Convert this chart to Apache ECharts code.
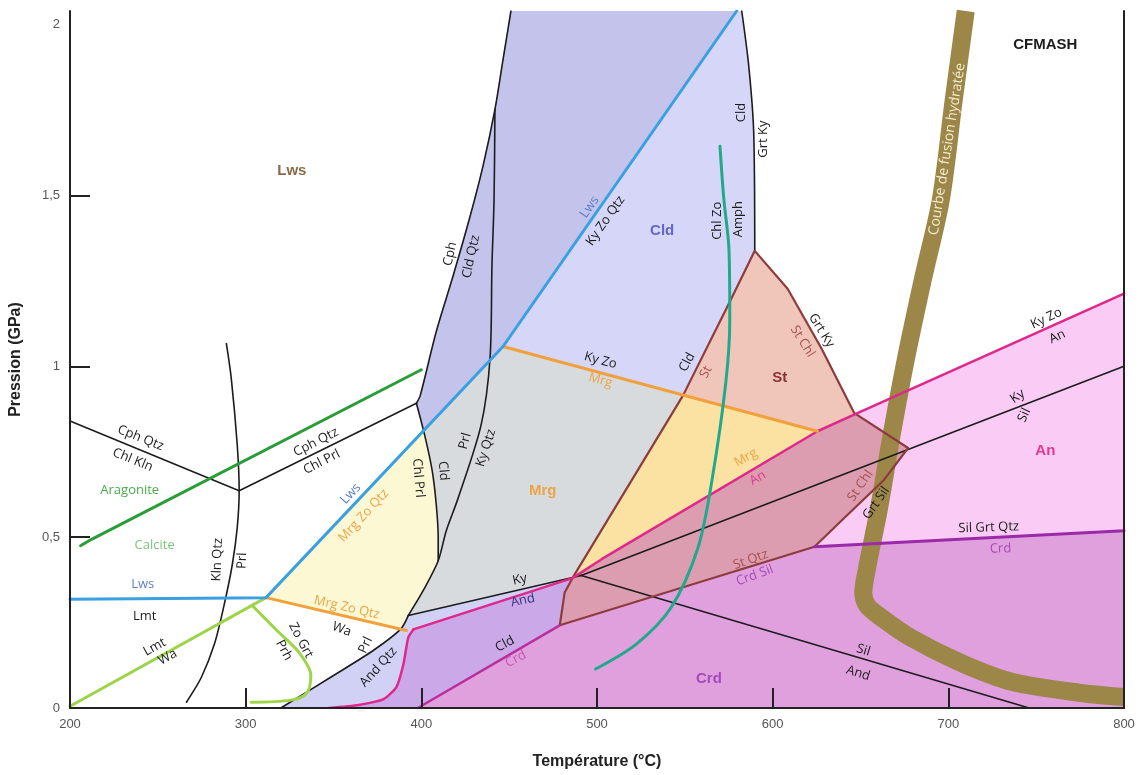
<!DOCTYPE html>
<html>
<head>
<meta charset="utf-8">
<title>Grille pétrogénétique CFMASH</title>
<script src="https://cdn.jsdelivr.net/npm/echarts@6/dist/echarts.min.js"></script>
<style>
  html, body { margin: 0; padding: 0; background: #fff; }
  #chart { width: 1139px; height: 775px; }
</style>
</head>
<body>
<div id="chart"></div>
<script>
// Axis ticks
const tempTicks = [200, 300, 400, 500, 600, 700, 800];
const pressTicks = [0, 0.5, 1, 1.5, 2];

// Reaction curves, as [T (°C), P (GPa)]
const lawsoniteOut = [[200, 0.318], [311.6, 0.323], [446.5, 1.058], [579.5, 2.04]];
const mrgZoQtzWaPrl = [[311.6, 0.323], [391.5, 0.227]];
const kyZoMrg = [[446.5, 1.058], [625.5, 0.81]];
const aragoniteCalcite = [[206, 0.475], [212, 0.493], [400, 0.99]];
const lmtWa = [[200, 0.005], [311.6, 0.323]];
const zoGrtPrh = [[303.7, 0.30], [317.8, 0.227], [330.3, 0.163], [337.1, 0.096], [334.8, 0.044], [325.8, 0.023], [303.1, 0.017]];
const cphQtzChlKln = [[200, 0.84], [296.3, 0.636]];
const cphQtzChlPrl = [[296.3, 0.636], [397.2, 0.892]];
const cphCldQtz = [[397.2, 0.892], [399.4, 0.915], [408.5, 1.102], [418.1, 1.265], [427.8, 1.44], [435.1, 1.586], [441.9, 1.752], [446.5, 1.898], [451, 2.04]];
const prlKyQtz = [[441.9, 1.752], [441.4, 1.49], [440.2, 1.294], [439.1, 1.023], [434, 0.828], [421, 0.615], [414.2, 0.519], [409.6, 0.431], [401.1, 0.344], [392.6, 0.271]];
const chlPrlCld = [[397.2, 0.892], [402.3, 0.79], [406.2, 0.694], [408.5, 0.595], [409.6, 0.499], [409.6, 0.431]];
const andQtzWaPrl = [[320, 0], [348.4, 0.09], [372.8, 0.169], [388.1, 0.23], [392.6, 0.271]];
const kyAnd = [[392.6, 0.271], [491, 0.388]];
const kySil = [[491, 0.388], [800, 1.0]];
const silAnd = [[491, 0.388], [746, 0]];
const klnQtzPrl = [[289, 1.067], [291.8, 0.965], [295.2, 0.77], [296.3, 0.636], [295.2, 0.528], [292.4, 0.42], [287.8, 0.303], [282.2, 0.187], [274.8, 0.09], [266.3, 0.017]];
const cldGrtKy = [[582.4, 2.04], [586.4, 1.878], [589.2, 1.685], [589.8, 1.338]];
const anelow = [[347.3, 0], [364.3, 0.009], [378.5, 0.026], [385.8, 0.061], [389.8, 0.128], [392.6, 0.207], [395.5, 0.23]];
const anHigh = [[395.5, 0.23], [486, 0.38], [503.1, 0.437], [625.5, 0.81], [647, 0.86], [800, 1.213]];
const cldCrd = [[398, 0], [478.8, 0.242]];
const staurolite = [[486, 0.38], [549, 0.915], [575.1, 1.184], [589.8, 1.338], [608.5, 1.227], [627.8, 1.052], [646.5, 0.863], [677.1, 0.761], [662.9, 0.665], [639.1, 0.548], [623.8, 0.472], [478.8, 0.242], [481.6, 0.338], [486, 0.38]];
const silGrtQtzCrd = [[623.8, 0.472], [800, 0.519]];
const chlZoAmph = [[570, 1.644], [572.2, 1.49], [575.1, 1.344], [575.6, 1.14], [573.4, 0.956], [565.4, 0.665], [557.5, 0.469], [542.2, 0.294], [522.4, 0.187], [499.2, 0.114]];
const meltingCurve = [[709.9, 2.04], [703.1, 1.781], [695.8, 1.49], [685.6, 1.257], [675.9, 1.023], [667.4, 0.79], [660.6, 0.586], [653.8, 0.411], [651.6, 0.338], [653.8, 0.3], [661.8, 0.265], [678.2, 0.207], [707.6, 0.131], [736.5, 0.076], [775.6, 0.044], [800, 0.032]];

// Stability fields
const fieldCphCld = [[397.2, 0.892], [399.4, 0.915], [408.5, 1.102], [418.1, 1.265], [427.8, 1.44], [435.1, 1.586], [441.9, 1.752], [446.5, 1.898], [451, 2.04], [579.5, 2.04], [446.5, 1.058], [401.5, 0.81]];
const fieldCld = [[579.5, 2.04], [582.4, 2.04], [586.4, 1.878], [589.2, 1.685], [589.8, 1.338], [575.1, 1.184], [549, 0.915], [446.5, 1.058]];
const fieldMrg = [[446.5, 1.058], [549, 0.915], [486, 0.38], [392.6, 0.271], [401.1, 0.344], [409.6, 0.431], [409.6, 0.499], [408.5, 0.595], [406.2, 0.694], [402.3, 0.79], [401.5, 0.81]];
const fieldMrgZoQtz = [[311.6, 0.323], [401.5, 0.81], [402.3, 0.79], [406.2, 0.694], [408.5, 0.595], [409.6, 0.499], [409.6, 0.431], [401.1, 0.344], [392.6, 0.271], [391.5, 0.227]];
const fieldStMrg = [[549, 0.915], [625.5, 0.81], [503.1, 0.437], [486, 0.38]];
const fieldStHigh = [[589.8, 1.338], [608.5, 1.227], [627.8, 1.052], [646.5, 0.863], [625.5, 0.81], [549, 0.915], [575.1, 1.184]];
const fieldStLow = [[486, 0.38], [503.1, 0.437], [625.5, 0.81], [647, 0.86], [677.1, 0.761], [662.9, 0.665], [639.1, 0.548], [623.8, 0.472], [478.8, 0.242], [481.6, 0.338]];
const fieldAnd = [[320, 0], [348.4, 0.09], [372.8, 0.169], [388.1, 0.23], [392.6, 0.271], [486, 0.38], [395.5, 0.23], [392.6, 0.207], [389.8, 0.128], [385.8, 0.061], [378.5, 0.026], [364.3, 0.009], [347.3, 0]];
const fieldCldCrd = [[347.3, 0], [364.3, 0.009], [378.5, 0.026], [385.8, 0.061], [389.8, 0.128], [392.6, 0.207], [395.5, 0.23], [486, 0.38], [481.6, 0.338], [478.8, 0.242], [398, 0]];
const fieldCrd = [[398, 0], [478.8, 0.242], [623.8, 0.472], [800, 0.519], [800, 0]];
const fieldAn = [[647, 0.86], [800, 1.213], [800, 0.519], [623.8, 0.472], [639.1, 0.548], [662.9, 0.665], [677.1, 0.761]];

// Field names
const fieldNames = [
  ['Lws', 326.3, 1.571, 'lws'],
  ['CFMASH', 755.2, 1.942, 'ink'],
  ['Cld', 537.1, 1.397, 'cld'],
  ['Mrg', 469.1, 0.636, 'orange'],
  ['St', 604, 0.965, 'stBig'],
  ['An', 755.2, 0.752, 'magenta'],
  ['Crd', 563.7, 0.085, 'purple']
];

// Reaction labels: text, T, P, angle along the curve (deg), tone
const reactionLabels = [
  ['Cph Qtz', 240.2, 0.79, -22, 'ink'],
  ['Chl Kln', 235.7, 0.726, -22, 'ink'],
  ['Aragonite', 234, 0.638, 0, 'aragonite'],
  ['Calcite', 248.2, 0.475, 0, 'calcite'],
  ['Lws', 241.4, 0.362, 0, 'blue'],
  ['Lmt', 242.5, 0.268, 0, 'ink'],
  ['Lmt', 248.2, 0.178, 29, 'ink'],
  ['Wa', 255.5, 0.149, 29, 'ink'],
  ['Kln Qtz', 283.9, 0.434, 88, 'ink'],
  ['Prl', 298, 0.431, 88, 'ink'],
  ['Cph Qtz', 340, 0.778, 27, 'ink'],
  ['Chl Prl', 343.3, 0.72, 27, 'ink'],
  ['Lws', 359.8, 0.627, 47, 'blue'],
  ['Mrg Zo Qtz', 367.1, 0.563, 47, 'orange'],
  ['Mrg Zo Qtz', 357.5, 0.294, -13, 'orange'],
  ['Wa', 354.7, 0.23, -20, 'ink'],
  ['Prl', 368.3, 0.184, 65, 'ink'],
  ['And Qtz', 375.6, 0.12, 48, 'ink'],
  ['Zo Grt', 331.4, 0.198, -62, 'ink'],
  ['Prh', 321.8, 0.169, -62, 'ink'],
  ['Chl Prl', 398.3, 0.673, -85, 'ink'],
  ['Cld', 412.5, 0.694, -85, 'ink'],
  ['Prl', 424.9, 0.781, 75, 'ink'],
  ['Ky Qtz', 436.8, 0.761, 72, 'ink'],
  ['Cph', 416.4, 1.329, 78, 'ink'],
  ['Cld Qtz', 428.3, 1.321, 78, 'ink'],
  ['Lws', 495.8, 1.466, 55, 'blue'],
  ['Ky Zo Qtz', 504.8, 1.426, 55, 'ink'],
  ['Chl Zo', 568.3, 1.426, 90, 'ink'],
  ['Amph', 580.7, 1.431, 90, 'ink'],
  ['Cld', 582.4, 1.743, 90, 'ink'],
  ['Grt Ky', 594.9, 1.665, 90, 'ink'],
  ['Ky Zo', 502, 1.017, -15, 'ink'],
  ['Mrg', 502, 0.959, -15, 'orange'],
  ['Cld', 551.3, 1.012, 62, 'ink'],
  ['St', 562, 0.983, 62, 'brown'],
  ['Grt Ky', 627.8, 1.105, -58, 'ink'],
  ['St Chl', 617, 1.073, -58, 'brown'],
  ['Mrg', 584.7, 0.732, 30, 'orange'],
  ['An', 591.5, 0.673, 30, 'magenta'],
  ['St Chl', 649.9, 0.65, 55, 'brown'],
  ['Grt Sil', 658.9, 0.60, 55, 'ink'],
  ['St Qtz', 587.5, 0.434, 20, 'brown'],
  ['Crd Sil', 589.8, 0.388, 20, 'purple'],
  ['Sil Grt Qtz', 723, 0.528, 2, 'ink'],
  ['Crd', 729.7, 0.466, 2, 'purple'],
  ['Ky Zo', 755.8, 1.14, 25, 'ink'],
  ['An', 762, 1.087, 25, 'ink'],
  ['Ky', 739.4, 0.912, 35, 'ink'],
  ['Sil', 743.3, 0.857, 65, 'ink'],
  ['Sil', 651.6, 0.169, -17, 'ink'],
  ['And', 648.7, 0.102, -17, 'ink'],
  ['Ky', 456.1, 0.376, 12, 'ink'],
  ['And', 457.8, 0.315, 12, 'navy'],
  ['Cld', 447.6, 0.187, 28, 'ink'],
  ['Crd', 453.8, 0.143, 28, 'purpleLight'],
  ['Courbe de fusion hydratée', 699.4, 1.636, 81, 'band']
];

const tones = {
  ink: '#1c1c1c', lws: '#8a6a48', cld: '#6464c4', orange: '#eba548', stBig: '#8a3434',
  magenta: '#e03a8e', purple: '#a44ab8', purpleLight: '#c458b4', blue: '#5a80c8',
  aragonite: '#4aad4a', calcite: '#7dc27d', brown: '#a85050', navy: '#34347a', band: '#f4ecd2'
};

const fills = [
  [fieldCphCld, '#c3c3ec'],
  [fieldCld, '#d6d7f8'],
  [fieldMrg, '#d8dbde'],
  [fieldMrgZoQtz, '#fdf8d4'],
  [fieldStMrg, '#fbe1a2'],
  [fieldStHigh, '#f0c6ba'],
  [fieldStLow, '#dc9db0'],
  [fieldAnd, '#d0d1f5'],
  [fieldCldCrd, '#cba8e7'],
  [fieldCrd, '#e0a0de'],
  [fieldAn, '#f9cbf5']
];

function curve(data, color, width, z, smooth, cap) {
  return {
    type: 'line', data: data, symbol: 'none', showSymbol: false, silent: true,
    smooth: smooth || false, z: z,
    lineStyle: { color: color, width: width, cap: cap || 'round', join: 'round' }
  };
}

const chart = echarts.init(document.getElementById('chart'));

const labelFont = "'Open Sans', 'Noto Sans', sans-serif";

chart.setOption({
  animation: false,
  backgroundColor: '#ffffff',
  grid: { left: 65, right: 15, top: 11, bottom: 64, show: false },
  xAxis: [{
    type: 'value', min: 200, max: 800, interval: 100, z: 10,
    name: 'Température (°C)', nameLocation: 'middle', nameGap: 46,
    nameTextStyle: { fontFamily: "'Liberation Sans Narrow', 'Liberation Sans', sans-serif", fontWeight: 'bold', fontSize: 16, color: '#222' },
    axisLine: { show: true, lineStyle: { color: '#222', width: 2 } },
    axisTick: { show: true, inside: true, length: 20, customValues: [300, 400, 500, 600, 700], lineStyle: { color: '#222', width: 2 } },
    axisLabel: { customValues: tempTicks, color: '#555', fontSize: 13, margin: 10, fontFamily: "'Liberation Sans', sans-serif" },
    splitLine: { show: false }
  }, {
    type: 'value', min: 200, max: 800, position: 'top', z: 10,
    axisLine: { show: true, lineStyle: { color: '#222', width: 2 } },
    axisTick: { show: false }, axisLabel: { show: false }, splitLine: { show: false }
  }],
  yAxis: [{
    type: 'value', min: 0, max: 2.04, z: 10,
    name: 'Pression (GPa)', nameLocation: 'middle', nameGap: 46, nameRotate: 90,
    nameTextStyle: { fontFamily: "'Liberation Sans Narrow', 'Liberation Sans', sans-serif", fontWeight: 'bold', fontSize: 16, color: '#222' },
    axisLine: { show: true, lineStyle: { color: '#222', width: 2 } },
    axisTick: { show: true, inside: true, length: 20, customValues: [0.5, 1, 1.5], lineStyle: { color: '#222', width: 2 } },
    axisLabel: { customValues: pressTicks, color: '#555', fontSize: 13, margin: 10, fontFamily: "'Liberation Sans', sans-serif",
      formatter: v => String(v).replace('.', ',') },
    splitLine: { show: false }
  }, {
    type: 'value', min: 0, max: 2.04, position: 'right', z: 10,
    axisLine: { show: true, lineStyle: { color: '#222', width: 2 } },
    axisTick: { show: false }, axisLabel: { show: false }, splitLine: { show: false }
  }],
  series: [
    {
      type: 'custom', silent: true, z: 1, clip: true,
      data: fills.map((f, i) => [f[0][0][0], f[0][0][1], i]),
      encode: { x: 0, y: 1 },
      renderItem: (params, api) => {
        const f = fills[params.dataIndex];
        return { type: 'polygon', shape: { points: f[0].map(p => api.coord(p)) }, style: { fill: f[1], stroke: f[1], lineWidth: 0.5 } };
      }
    },
    curve(meltingCurve, '#9c8748', 18, 2, 0.3, 'butt'),
    curve(cphQtzChlKln, '#1c1c1c', 1.6, 3),
    curve(cphQtzChlPrl, '#1c1c1c', 1.6, 3),
    curve(cphCldQtz, '#1c1c1c', 1.6, 3, 0.3),
    curve(prlKyQtz, '#1c1c1c', 1.6, 3, 0.3),
    curve(chlPrlCld, '#1c1c1c', 1.6, 3, 0.3),
    curve(andQtzWaPrl, '#1c1c1c', 1.6, 3, 0.3),
    curve(kyAnd, '#1c1c1c', 1.6, 3),
    curve(kySil, '#1c1c1c', 1.6, 3),
    curve(silAnd, '#1c1c1c', 1.6, 3),
    curve(klnQtzPrl, '#1c1c1c', 1.6, 3, 0.3),
    curve(cldGrtKy, '#1c1c1c', 1.6, 3, 0.3),
    curve(staurolite, '#8c3c3c', 2.2, 3),
    curve(cldCrd, '#b8309c', 2.5, 3),
    curve(silGrtQtzCrd, '#9a2aa8', 3, 3),
    curve(anelow, '#e0288a', 2.5, 3, 0.2),
    curve(anHigh, '#e0288a', 2.5, 3),
    curve(lmtWa, '#9ed44a', 3, 3),
    curve(zoGrtPrh, '#9ed44a', 3, 3, 0.3),
    curve(aragoniteCalcite, '#2a9d3a', 3, 3),
    curve(mrgZoQtzWaPrl, '#f2a03c', 3, 3),
    curve(kyZoMrg, '#f2a03c', 3, 3),
    curve(lawsoniteOut, '#3aa0e0', 3, 3),
    curve(chlZoAmph, '#22a88a', 3, 4, 0.3),
    {
      type: 'custom', silent: true, z: 5, clip: false,
      data: reactionLabels.map((l, i) => [l[1], l[2], i]),
      encode: { x: 0, y: 1 },
      renderItem: (params, api) => {
        const l = reactionLabels[params.dataIndex];
        const pt = api.coord([l[1], l[2]]);
        const isBand = l[4] === 'band';
        return {
          type: 'text', x: pt[0], y: pt[1], rotation: l[3] * Math.PI / 180,
          style: { text: l[0], fill: tones[l[4]], fontSize: isBand ? 14 : 13, fontFamily: labelFont,
            align: 'center', verticalAlign: 'middle' }
        };
      }
    },
    {
      type: 'custom', silent: true, z: 5, clip: false,
      data: fieldNames.map((l, i) => [l[1], l[2], i]),
      encode: { x: 0, y: 1 },
      renderItem: (params, api) => {
        const l = fieldNames[params.dataIndex];
        const pt = api.coord([l[1], l[2]]);
        return {
          type: 'text', x: pt[0], y: pt[1],
          style: { text: l[0], fill: tones[l[3]], fontSize: 15, fontWeight: 'bold',
            fontFamily: "'Liberation Sans', Arial, sans-serif", align: 'center', verticalAlign: 'middle' }
        };
      }
    }
  ]
});
</script>
</body>
</html>
